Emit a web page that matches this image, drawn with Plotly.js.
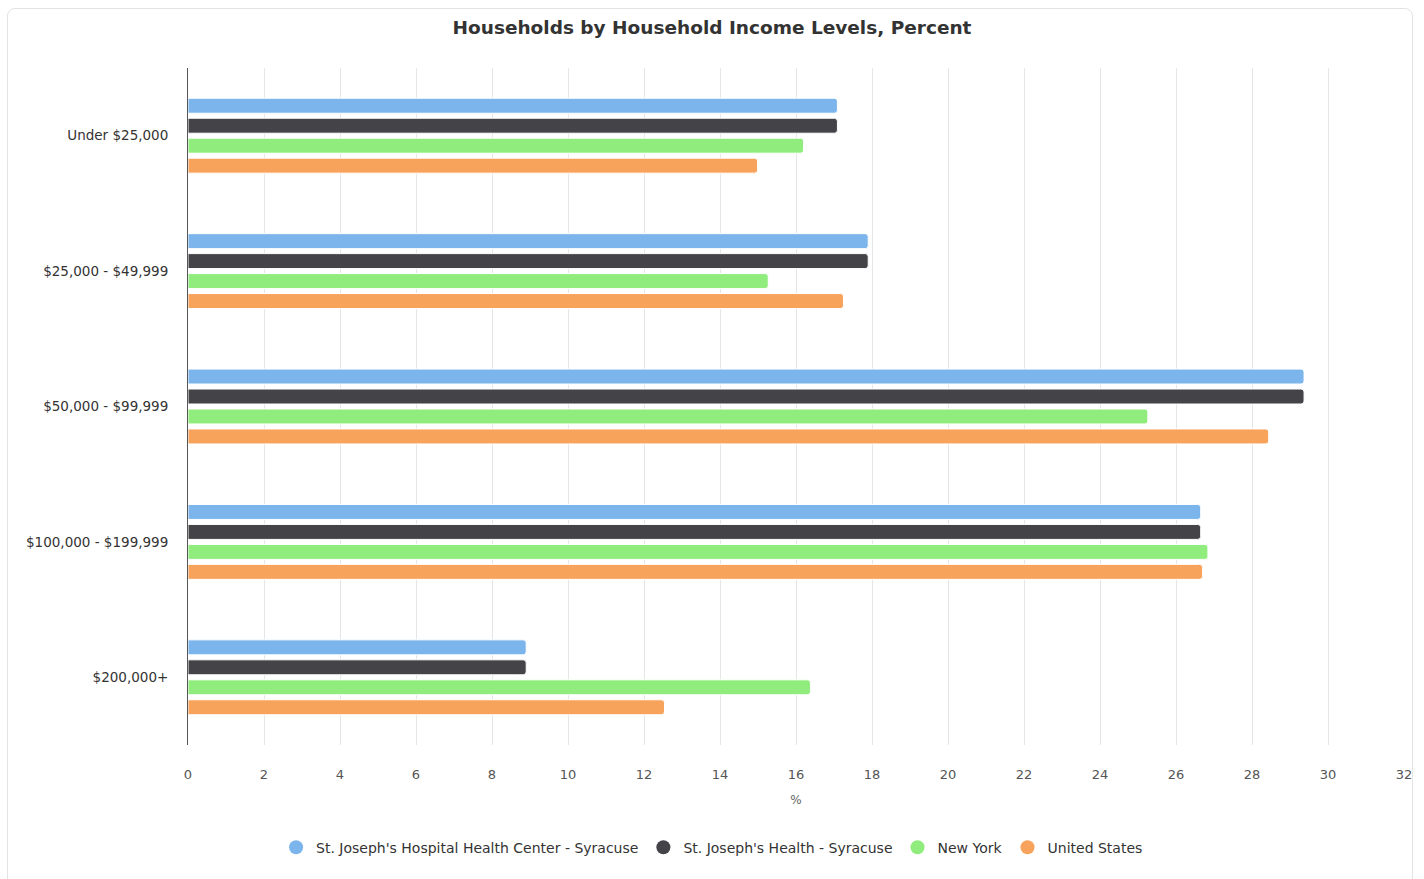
<!DOCTYPE html>
<html>
<head>
<meta charset="utf-8">
<script src="https://cdn.plot.ly/plotly-3.0.1.min.js"></script>
<style>
  html, body { margin: 0; padding: 0; background: #fff; }
  #card { position: absolute; left: 7px; top: 8px; width: 1406px; height: 900px;
          border: 1px solid #e3e3e3; border-radius: 8px; box-sizing: border-box; }
  #chart { position: absolute; left: 0; top: 0; width: 1424px; height: 879px; }
</style>
</head>
<body>
<div id="card"></div>
<div id="chart"></div>
<script>
const categories = ["Under $25,000", "$25,000 - $49,999", "$50,000 - $99,999", "$100,000 - $199,999", "$200,000+"];
const seriesNames = ["St. Joseph's Hospital Health Center - Syracuse", "St. Joseph's Health - Syracuse", "New York", "United States"];
const hospital = [17.09, 17.9, 29.37, 26.65, 8.9];
const health = [17.09, 17.9, 29.37, 26.65, 8.9];
const newYork = [16.2, 15.27, 25.26, 26.84, 16.38];
const unitedStates = [14.99, 17.25, 28.44, 26.7, 12.54];
const xTicks = [0, 2, 4, 6, 8, 10, 12, 14, 16, 18, 20, 22, 24, 26, 28, 30, 32];

const colors = ["#7cb5ec", "#434348", "#90ed7d", "#f7a35c"];
const values = [hospital, health, newYork, unitedStates];

const traces = [];
values.forEach((vals, i) => {
  traces.push({
    type: "bar", orientation: "h", x: vals, y: categories, name: seriesNames[i],
    marker: { color: colors[i], line: { color: "#ffffff", width: 1 }, cornerradius: 3 },
    showlegend: false, legendgroup: "g" + i, hoverinfo: "x+name"
  });
});
values.forEach((vals, i) => {
  traces.push({
    type: "scatter", mode: "markers", x: [null], y: [null], name: seriesNames[i],
    marker: { color: colors[i], size: 14, symbol: "circle" },
    legendgroup: "g" + i, showlegend: true, hoverinfo: "skip"
  });
});

const layout = {
  width: 1424, height: 879,
  paper_bgcolor: "rgba(0,0,0,0)", plot_bgcolor: "rgba(0,0,0,0)",
  margin: { l: 188, r: 20, t: 68, b: 134 },
  font: { family: "DejaVu Sans, sans-serif", color: "#333" },
  title: { text: "<b>Households by Household Income Levels, Percent</b>",
           font: { size: 18.5, color: "#333", family: "DejaVu Sans, sans-serif" },
           x: 0.5, xref: "container", xanchor: "center", y: 0.969, yanchor: "middle" },
  barmode: "group", bargap: 0.41, bargroupgap: 0.25,
  xaxis: {
    range: [0, 32], tickvals: xTicks, ticktext: xTicks.map(String),
    showgrid: true, gridcolor: "#e6e6e6", gridwidth: 1, zeroline: false,
    showline: false, ticks: "", tickfont: { size: 13, color: "#555" },
    ticklabelstandoff: 20,
    title: { text: "%", font: { size: 12, color: "#666" }, standoff: 14 }
  },
  yaxis: {
    type: "category", autorange: "reversed", showgrid: false, zeroline: false,
    showline: true, linecolor: "#555", linewidth: 1, ticks: "",
    tickfont: { size: 13.5, color: "#333" }, ticklabelstandoff: 16
  },
  legend: {
    orientation: "h", x: 0.431, xanchor: "center", y: -0.128, yanchor: "top",
    font: { size: 14, color: "#333" }, itemclick: false, itemdoubleclick: false,
    traceorder: "normal"
  },
  hovermode: "closest"
};

Plotly.newPlot("chart", traces, layout, { displayModeBar: false });
</script>
</body>
</html>
